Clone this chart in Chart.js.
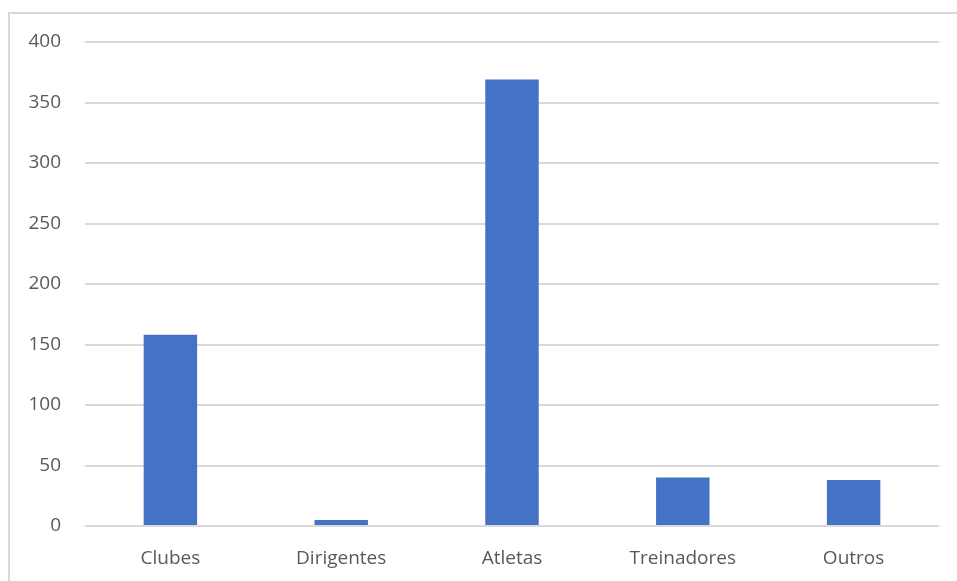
<!DOCTYPE html>
<html>
<head>
<meta charset="utf-8">
<script src="https://cdn.jsdelivr.net/npm/chart.js@4"></script>
<style>
    html, body { margin: 0; padding: 0; background: #fff; overflow: hidden; }
    #wrap { position: relative; width: 957px; height: 581px; }
    #frame {
        position: absolute; left: 8px; top: 12px; width: 960px; height: 580px;
        border: 2px solid #d9d9d9; box-sizing: border-box;
    }
    canvas { position: absolute; left: 0; top: 0; }
</style>
</head>
<body>
<div id="wrap">
    <div id="frame"></div>
    <canvas id="barChart" width="957" height="581"></canvas>
</div>
<script>
    // 카테고리와 값
    const categories = ['Clubes', 'Dirigentes', 'Atletas', 'Treinadores', 'Outros'];
    const counts = [158, 5, 369, 40, 38];
    const yTicks = [0, 50, 100, 150, 200, 250, 300, 350, 400];

    const ctx = document.getElementById('barChart').getContext('2d');
    new Chart(ctx, {
        type: 'bar',
        data: {
            labels: categories,
            datasets: [{
                data: counts,
                backgroundColor: '#4472c4',
                borderWidth: 0,
                categoryPercentage: 1,
                barPercentage: 0.313
            }]
        },
        options: {
            responsive: false,
            animation: false,
            layout: {
                padding: { top: 42, right: 18, left: 0, bottom: 0 }
            },
            plugins: {
                legend: { display: false },
                tooltip: { enabled: false }
            },
            scales: {
                x: {
                    grid: { display: false },
                    border: { display: false },
                    ticks: {
                        color: '#595959',
                        padding: 13,
                        font: { family: 'Open Sans', size: 19 }
                    },
                    afterFit: scale => { scale.height = 55; }
                },
                y: {
                    min: 0,
                    max: 400,
                    afterBuildTicks: scale => {
                        scale.ticks = yTicks.map(v => ({ value: v }));
                    },
                    grid: {
                        color: '#d9d9d9',
                        lineWidth: 2,
                        drawTicks: false
                    },
                    border: { display: false },
                    ticks: {
                        color: '#595959',
                        padding: 24,
                        font: { family: 'Open Sans', size: 19 }
                    },
                    afterFit: scale => { scale.width = 85; }
                }
            }
        }
    });
</script>
</body>
</html>
